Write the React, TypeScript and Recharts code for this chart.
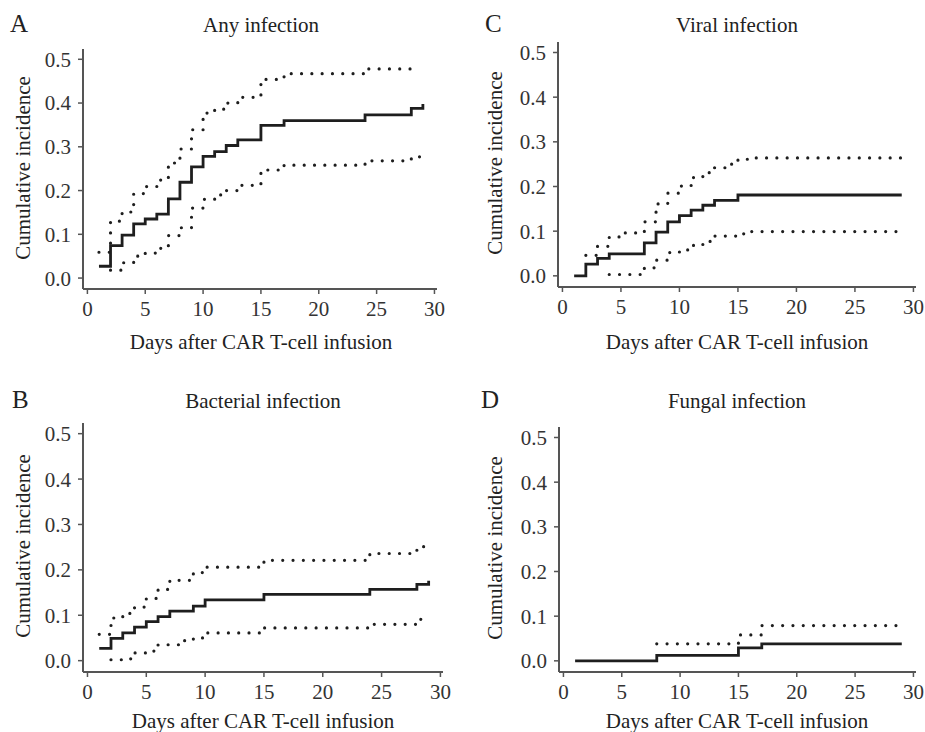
import React from "react";
import { LineChart, Line, XAxis, YAxis } from "recharts";

// ---- Data ----
const daysA = [1, 2, 3, 4, 5, 6, 7, 8, 9, 10, 11, 12, 13, 15, 17, 24, 28, 29];
const estA = [0.027, 0.074, 0.098, 0.124, 0.135, 0.146, 0.181, 0.219, 0.254, 0.278, 0.289, 0.303, 0.316, 0.349, 0.36, 0.373, 0.388, 0.398];
const hiA = [0.059, 0.13, 0.151, 0.193, 0.209, 0.224, 0.263, 0.295, 0.339, 0.377, 0.386, 0.4, 0.413, 0.454, 0.467, 0.478, 0.492, null];
const loA = [null, 0.018, 0.035, 0.05, 0.057, 0.068, 0.097, 0.115, 0.16, 0.18, 0.19, 0.2, 0.212, 0.247, 0.258, 0.268, 0.277, 0.288];

const daysC = [1, 2, 3, 4, 5, 7, 8, 9, 10, 11, 12, 13, 14, 15, 16, 29];
const estC = [0, 0.026, 0.039, 0.049, 0.049, 0.074, 0.098, 0.121, 0.135, 0.147, 0.158, 0.169, 0.169, 0.181, 0.181, 0.181];
const hiC = [null, 0.046, 0.066, 0.087, 0.096, 0.121, 0.161, 0.185, 0.201, 0.22, 0.231, 0.242, 0.25, 0.261, 0.264, 0.264];
const loC = [null, null, null, 0.003, 0.003, 0.018, 0.035, 0.052, 0.058, 0.068, 0.077, 0.089, 0.089, 0.094, 0.099, 0.099];

const daysB = [1, 2, 3, 4, 5, 6, 7, 8, 9, 10, 15, 24, 28, 29];
const estB = [0.027, 0.049, 0.061, 0.074, 0.086, 0.097, 0.109, 0.109, 0.12, 0.134, 0.146, 0.157, 0.168, 0.176];
const hiB = [0.058, 0.094, 0.104, 0.118, 0.137, 0.157, 0.177, 0.177, 0.194, 0.206, 0.221, 0.236, 0.251, 0.251];
const loB = [null, 0.002, 0.004, 0.017, 0.021, 0.035, 0.035, 0.044, 0.05, 0.061, 0.072, 0.08, 0.091, 0.091];

const daysD = [1, 8, 15, 17, 29];
const estD = [0, 0.012, 0.029, 0.038, 0.038];
const hiD = [null, 0.038, 0.058, 0.079, 0.079];
const loD = [null, null, null, null, null];

const xTicks = [0, 5, 10, 15, 20, 25, 30];
const yTicks = [0, 0.1, 0.2, 0.3, 0.4, 0.5];

const yLabel = "Cumulative incidence";
const xLabel = "Days after CAR T-cell infusion";

function build(days: number[], est: (number | null)[], lo: (number | null)[], hi: (number | null)[]) {
  return days.map((d, i) => ({ day: d, est: est[i], lo: lo[i], hi: hi[i] }));
}

const FONT = "Liberation Serif, DejaVu Serif, serif";
const INK = "#1e1e1e";
const AXIS = "#555";

type PanelProps = {
  data: any[];
  left: number;
  top: number;
  width: number;
  height: number;
  plotLeft: number;
  plotRight: number;
  plotTop: number;
  plotBottom: number;
};

function Panel(p: PanelProps) {
  const xAxisH = 40;
  const margin = {
    top: p.plotTop - p.top,
    right: p.left + p.width - p.plotRight,
    left: 0,
    bottom: p.top + p.height - p.plotBottom - xAxisH,
  };
  const tickStyle = { fontFamily: FONT, fontSize: 21, fill: "#333" };
  return (
    <div style={{ position: "absolute", left: p.left, top: p.top, fontFamily: FONT }}>
      <LineChart width={p.width} height={p.height} data={p.data} margin={margin}>
        <XAxis
          dataKey="day"
          type="number"
          domain={[-0.38, 30.22]}
          allowDataOverflow
          ticks={xTicks}
          height={xAxisH}
          tick={tickStyle}
          tickSize={5}
          tickMargin={7}
          axisLine={{ stroke: AXIS, strokeWidth: 2 }}
          tickLine={{ stroke: AXIS, strokeWidth: 1.5 }}
          interval={0}
        />
        <YAxis
          type="number"
          domain={[-0.025, 0.5235]}
          allowDataOverflow
          ticks={yTicks}
          width={p.plotLeft - p.left}
          tick={tickStyle}
          tickSize={5}
          tickMargin={7}
          tickFormatter={(v: number) => v.toFixed(1)}
          axisLine={{ stroke: AXIS, strokeWidth: 2 }}
          tickLine={{ stroke: AXIS, strokeWidth: 1.5 }}
          interval={0}
        />
        <Line
          dataKey="hi"
          type="stepAfter"
          stroke={INK}
          strokeWidth={3.2}
          strokeDasharray="0 10.3"
          strokeLinecap="round"
          dot={false}
          activeDot={false}
          isAnimationActive={false}
        />
        <Line
          dataKey="lo"
          type="stepAfter"
          stroke={INK}
          strokeWidth={3.2}
          strokeDasharray="0 10.3"
          strokeLinecap="round"
          dot={false}
          activeDot={false}
          isAnimationActive={false}
        />
        <Line
          dataKey="est"
          type="stepAfter"
          stroke={INK}
          strokeWidth={2.8}
          dot={false}
          activeDot={false}
          isAnimationActive={false}
        />
      </LineChart>
    </div>
  );
}

const texts = [
  { letter: "A", lx: 10, ly: 32, title: "Any infection", tx: 261, ty: 32, ylx: 23, yly: 168, xlx: 261, xly: 349 },
  { letter: "C", lx: 485, ly: 32, title: "Viral infection", tx: 737, ty: 32, ylx: 495, yly: 163, xlx: 737, xly: 349 },
  { letter: "B", lx: 12, ly: 408, title: "Bacterial infection", tx: 263, ty: 408, ylx: 23, yly: 546, xlx: 263, xly: 728 },
  { letter: "D", lx: 481, ly: 408, title: "Fungal infection", tx: 737, ty: 408, ylx: 495, yly: 548, xlx: 737, xly: 728 },
];

export default function App() {
  return (
    <div style={{ position: "absolute", left: 0, top: 0, width: 925, height: 732, background: "#fff", overflow: "hidden", fontFamily: FONT }}>
      <Panel data={build(daysA, estA, loA, hiA)} left={0} top={0} width={460} height={360} plotLeft={83} plotRight={437} plotTop={49} plotBottom={289} />
      <Panel data={build(daysC, estC, loC, hiC)} left={460} top={0} width={465} height={360} plotLeft={558} plotRight={916} plotTop={42} plotBottom={287} />
      <Panel data={build(daysB, estB, loB, hiB)} left={0} top={360} width={460} height={372} plotLeft={83} plotRight={443} plotTop={423} plotBottom={672} />
      <Panel data={build(daysD, estD, loD, hiD)} left={460} top={360} width={465} height={372} plotLeft={559} plotRight={916} plotTop={427} plotBottom={672} />
      <svg width={925} height={732} style={{ position: "absolute", left: 0, top: 0, pointerEvents: "none", fontFamily: FONT }}>
        {texts.map((t) => (
          <g key={t.letter} fill="#222">
            <text x={t.lx} y={t.ly} fontSize={25}>{t.letter}</text>
            <text x={t.tx} y={t.ty} fontSize={21} textAnchor="middle">{t.title}</text>
            <text
              x={t.ylx}
              y={t.yly}
              fontSize={21}
              textAnchor="middle"
              dominantBaseline="central"
              transform={`rotate(-90 ${t.ylx} ${t.yly})`}
            >
              {yLabel}
            </text>
            <text x={t.xlx} y={t.xly} fontSize={21} textAnchor="middle">{xLabel}</text>
          </g>
        ))}
      </svg>
    </div>
  );
}
